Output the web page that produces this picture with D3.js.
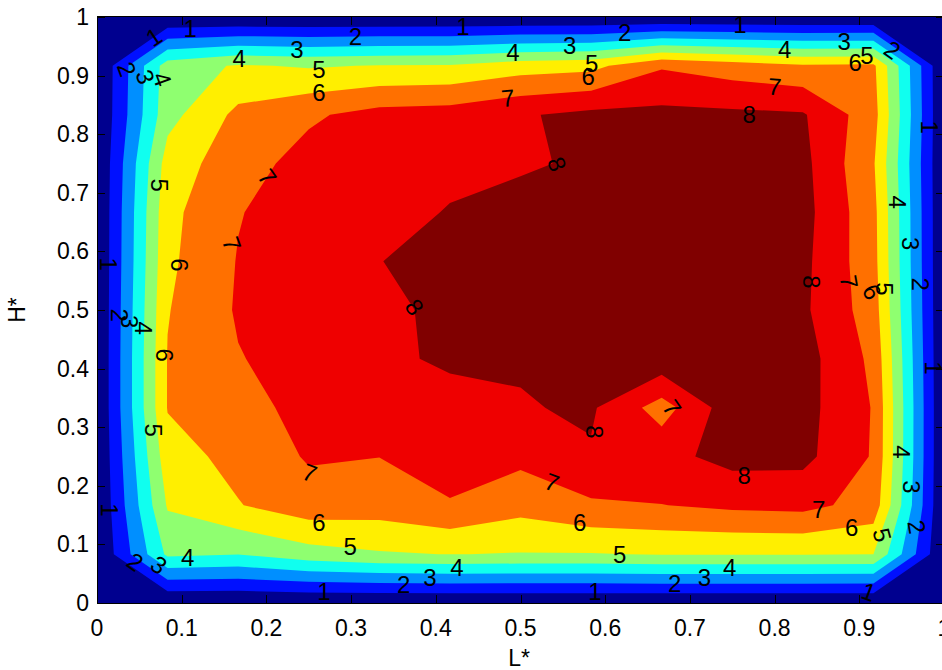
<!DOCTYPE html>
<html><head><meta charset="utf-8">
<script src="https://cdn.jsdelivr.net/npm/d3@7"></script>
<style>
body{margin:0;background:#fff;overflow:hidden;}
svg{display:block;font-family:Arial,"Liberation Sans",sans-serif;}
</style>
</head><body>
<svg id="chart" width="942" height="670"></svg>
<script>
// Grid coordinates (L*, H*)
const gridL = d3.range(13).map(i => i / 12);
const gridH = d3.range(13).map(j => j / 12);
// Values, rows from H*=0 (bottom) to H*=1 (top), columns L*=0..1
const zRows = [
  [0,0,0,0,0,0,0,0,0,0,0,0,0],
  [0,4.2,4.02,4.6,4.9,5.02,4.95,4.95,5.05,5.05,5.05,5.0,0],
  [0,5.1,5.95,6.59,6.47,6.93,6.35,6.85,6.98,7.2,7.3,6.6,0],
  [0,5.6,6.3,7.1,7.01,7.4,7.25,7.9,7.7,8.33,8.27,6.91,0],
  [0,6.05,6.7,7.27,7.5,7.3,7.93,8.13,6.56,8.59,8.35,6.94,0],
  [0,6.05,6.95,7.4,7.6,8.3,8.1,8.6,8.7,8.8,8.41,6.77,0],
  [0,5.95,7.1,7.5,7.7,8.3,8.6,8.9,9.0,9.0,8.18,6.5,0],
  [0,5.8,7.05,7.5,7.97,8.5,8.8,9.0,9.1,9.0,8.25,6.35,0],
  [0,5.72,6.95,7.5,7.57,8.07,8.7,8.9,9.0,9.0,8.35,6.3,0],
  [0,5.45,6.6,7.35,7.55,7.7,7.75,8.3,8.7,8.8,8.28,6.1,0],
  [0,4.65,6.25,6.85,7.35,7.45,7.9,8.25,8.26,8.2,8.1,6.4,0],
  [0,4.5,5.1,4.9,5.05,5.1,5.55,5.7,6.9,6.5,6.15,6.2,0],
  [0,0,0,0,0,0,0,0,0,0,0,0,0]
];
const levels = [1,2,3,4,5,6,7,8];
const bandColors = ["#00008F","#0010FF","#008FFF","#10FFEF","#8FFF70","#FFEF00","#FF7000","#EF0000","#800000"];
const xTicks = [0,0.1,0.2,0.3,0.4,0.5,0.6,0.7,0.8,0.9,1];
const yTicks = [0,0.1,0.2,0.3,0.4,0.5,0.6,0.7,0.8,0.9,1];
const xTickLabels = ["0","0.1","0.2","0.3","0.4","0.5","0.6","0.7","0.8","0.9","1"];
const yTickLabels = ["0","0.1","0.2","0.3","0.4","0.5","0.6","0.7","0.8","0.9","1"];
// contour labels: position (L*, H*), text, angle
const labelL = [0.110,0.067,0.035,0.057,0.077,0.168,0.236,0.305,0.432,0.262,0.262,0.201,0.159,0.074,0.097,0.014,0.375,0.491,0.558,0.623,0.759,0.584,0.580,0.485,0.770,0.800,0.812,0.882,0.895,0.909,0.939,0.983,0.543,0.945,0.960,0.972,0.844,0.888,0.915,0.930,0.026,0.038,0.055,0.080,0.067,0.015,0.045,0.073,0.107,0.251,0.262,0.299,0.268,0.362,0.393,0.425,0.587,0.679,0.764,0.537,0.570,0.617,0.747,0.717,0.682,0.588,0.852,0.891,0.927,0.968,0.962,0.950,0.911,0.988];
const labelH = [0.980,0.966,0.911,0.898,0.894,0.930,0.945,0.966,0.983,0.910,0.872,0.727,0.613,0.713,0.577,0.578,0.505,0.939,0.952,0.974,0.988,0.921,0.898,0.862,0.834,0.881,0.945,0.959,0.923,0.935,0.944,0.812,0.749,0.684,0.613,0.544,0.548,0.548,0.531,0.536,0.491,0.480,0.469,0.423,0.295,0.159,0.070,0.065,0.077,0.222,0.138,0.096,0.019,0.031,0.044,0.060,0.292,0.333,0.218,0.206,0.137,0.082,0.061,0.044,0.034,0.019,0.159,0.128,0.116,0.130,0.198,0.258,0.019,0.401];
const labelText = ["1","1","2","3","4","4","3","2","1","5","6","7","7","5","6","1","8","4","3","2","1","5","6","7","8","7","4","3","6","5","2","1","8","4","3","2","8","7","6","5","2","3","4","6","5","1","2","3","4","7","6","5","1","2","3","4","8","7","8","7","6","5","4","3","2","1","7","6","5","2","3","4","1","1"];
const labelAngle = [0,-34,70,70,70,0,0,0,0,0,0,55,70,90,90,90,55,0,0,0,0,0,0,-5,0,5,0,0,0,0,35,90,70,90,90,90,90,80,60,90,90,90,90,90,90,90,35,35,0,20,0,0,0,0,0,0,90,55,0,20,0,0,0,0,0,0,0,0,75,80,90,90,20,90];

const svg = d3.select("#chart");
const pLeft = 97, pRight = 944, pTop = 17, pBottom = 603;
const x = d3.scaleLinear().domain([0,1]).range([pLeft,pRight]);
const y = d3.scaleLinear().domain([0,1]).range([pBottom,pTop]);
const idxToL = d3.scaleLinear().domain([0,12]).range([gridL[0], gridL[12]]);
const idxToH = d3.scaleLinear().domain([0,12]).range([gridH[12], gridH[0]]);

svg.append("clipPath").attr("id","clip").append("rect")
  .attr("x",pLeft).attr("y",pTop).attr("width",pRight-pLeft).attr("height",pBottom-pTop);

const plot = svg.append("g").attr("clip-path","url(#clip)");
plot.append("rect").attr("x",pLeft).attr("y",pTop).attr("width",pRight-pLeft).attr("height",pBottom-pTop)
  .attr("fill",bandColors[0]);

// d3 grid: first row = top (H*=1)
const values = [];
for (let r = zRows.length-1; r >= 0; r--) values.push(...zRows[r]);
const contours = d3.contours().size([13,13]).thresholds(levels)(values);
const proj = d3.geoTransform({point(px,py){
  this.stream.point(x(idxToL(px-0.5)), y(idxToH(py-0.5)));
}});
const path = d3.geoPath(proj);
plot.selectAll("path.band").data(contours).join("path")
  .attr("class","band")
  .attr("d",path)
  .attr("fill",(d,i)=>bandColors[i+1])
  .attr("stroke","none");

// contour labels
const lab = svg.append("g").attr("font-size",24).attr("fill","#000");
labelText.forEach((t,i)=>{
  lab.append("text")
    .attr("transform",`translate(${x(labelL[i])},${y(labelH[i])}) rotate(${labelAngle[i]})`)
    .attr("text-anchor","middle").attr("dominant-baseline","central")
    .text(t);
});

// axes box & ticks
const ax = svg.append("g").attr("stroke","#000").attr("stroke-width",1).attr("fill","none");
ax.append("rect").attr("x",pLeft+0.5).attr("y",pTop-0.5).attr("width",pRight-pLeft).attr("height",pBottom-pTop+1);
const tl = 8;
xTicks.forEach(v=>{
  const px = Math.round(x(v))+0.5;
  ax.append("line").attr("x1",px).attr("x2",px).attr("y1",pBottom).attr("y2",pBottom-tl);
  ax.append("line").attr("x1",px).attr("x2",px).attr("y1",pTop).attr("y2",pTop+tl);
});
yTicks.forEach(v=>{
  const py = Math.round(y(v))+0.5;
  ax.append("line").attr("x1",pLeft).attr("x2",pLeft+tl).attr("y1",py).attr("y2",py);
  ax.append("line").attr("x1",pRight).attr("x2",pRight-tl).attr("y1",py).attr("y2",py);
});

const tx = svg.append("g").attr("font-size",23).attr("fill","#000");
xTicks.forEach((v,i)=>{
  tx.append("text").attr("x",x(v)).attr("y",636).attr("text-anchor","middle").text(xTickLabels[i]);
});
yTicks.forEach((v,i)=>{
  tx.append("text").attr("x",89).attr("y",y(v)+8).attr("text-anchor","end").text(yTickLabels[i]);
});
tx.append("text").attr("x",519).attr("y",666).attr("text-anchor","middle").text("L*");
tx.append("text").attr("transform","translate(25,310) rotate(-90)").attr("text-anchor","middle").text("H*");
</script>
</body></html>
